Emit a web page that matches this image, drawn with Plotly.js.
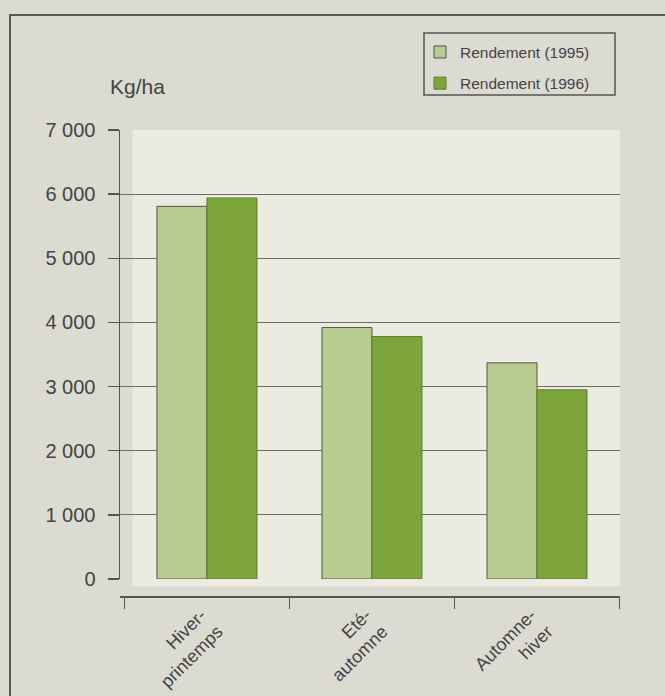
<!DOCTYPE html>
<html><head><meta charset="utf-8">
<script src="https://cdn.plot.ly/plotly-3.0.1.min.js"></script>
<style>
html,body{margin:0;padding:0;background:#dcdbd2;overflow:hidden;}
#chart{width:665px;height:696px;}
#frame{position:absolute;left:9px;top:14px;width:700px;height:700px;border-left:2px solid #5a5a55;border-top:2px solid #5a5a55;pointer-events:none;}
</style></head><body>
<div id="chart"></div><div id="frame"></div>
<script>
const categories = ['Hiver-<br>printemps', 'Eté-<br>automne', 'Automne-<br>hiver'];
const rendement1995 = [5810, 3920, 3370];
const rendement1996 = [5940, 3780, 2950];
const yTickVals = [0, 1000, 2000, 3000, 4000, 5000, 6000, 7000];
const yTickText = ['0', '1 000', '2 000', '3 000', '4 000', '5 000', '6 000', '7 000'];
const boundaryVals = [-0.5, 0.5, 1.5, 2.5];
const seriesNames = ['Rendement (1995)', 'Rendement (1996)'];
const unitLabel = 'Kg/ha';

const FONT = 'Liberation Sans, Arial, sans-serif';
const AX = '#55554f';
const XR = [-0.527, 2.503];

const traces = [
  {type: 'bar', name: seriesNames[0], x: categories, y: rendement1995, legendgroup: 'a',
   marker: {color: '#b9cc90', line: {color: '#56564c', width: 1}}, hoverinfo: 'skip'},
  {type: 'bar', name: seriesNames[1], x: categories, y: rendement1996, legendgroup: 'b',
   marker: {color: '#7ea43c', line: {color: '#5e7c2c', width: 1}}, hoverinfo: 'skip'}
];

const layout = {
  width: 665, height: 696,
  margin: {l: 120, r: 45, t: 130, b: 100},
  paper_bgcolor: '#dcdbd2',
  plot_bgcolor: 'rgba(0,0,0,0)',
  font: {family: FONT, color: '#444'},
  barmode: 'group', bargap: 0.394, bargroupgap: 0,
  showlegend: true,
  legend: {x: 0.6, xanchor: 'left', y: 1.203, yanchor: 'top', bgcolor: 'rgba(0,0,0,0)',
           borderwidth: 0, font: {size: 15.5, color: '#444'}, traceorder: 'grouped', tracegroupgap: 8},
  xaxis: {type: 'category', range: XR, anchor: 'free', position: 0,
          showline: true, linecolor: AX, linewidth: 1.5, showgrid: false, zeroline: false,
          ticks: 'outside', ticklen: 11, tickwidth: 1.5, tickcolor: AX, tickson: 'boundaries',
          tickangle: -45, ticklabelshift: -6, tickfont: {size: 18, color: '#444'}, fixedrange: true},
  xaxis2: {type: 'linear', overlaying: 'x', range: XR, anchor: 'free', position: 0,
           tickmode: 'array', tickvals: boundaryVals, ticks: 'inside', ticklen: 11, tickwidth: 1.5,
           tickcolor: AX, showticklabels: false, showgrid: false, zeroline: false, showline: false},
  yaxis: {domain: [0.0365, 1], range: [0, 7000], anchor: 'x',
          tickmode: 'array', tickvals: yTickVals, ticktext: yTickText,
          showline: true, linecolor: AX, linewidth: 1.5,
          ticks: 'outside', ticklen: 11, tickwidth: 1.5, tickcolor: AX, ticklabelstandoff: 8,
          showgrid: true, gridcolor: '#6d6d66', gridwidth: 1, zeroline: false,
          tickfont: {size: 20, color: '#444'}, fixedrange: true},
  shapes: [
    {type: 'rect', xref: 'x', yref: 'paper', x0: -0.45, x1: 2.503, y0: 0.021, y1: 1,
     fillcolor: '#ebebe1', line: {width: 0}, layer: 'below'},
    {type: 'rect', xref: 'paper', yref: 'paper', x0: 0.608, x1: 0.99, y0: 1.075, y1: 1.208,
     fillcolor: 'rgba(0,0,0,0)', line: {color: AX, width: 1.5}}
  ],
  annotations: [
    {text: unitLabel, xref: 'paper', yref: 'paper', x: -0.024, xanchor: 'left', y: 1.094, yanchor: 'middle',
     showarrow: false, font: {size: 21, color: '#444'}}
  ]
};

Plotly.newPlot('chart', traces, layout, {staticPlot: true, displayModeBar: false});
</script>
</body></html>
